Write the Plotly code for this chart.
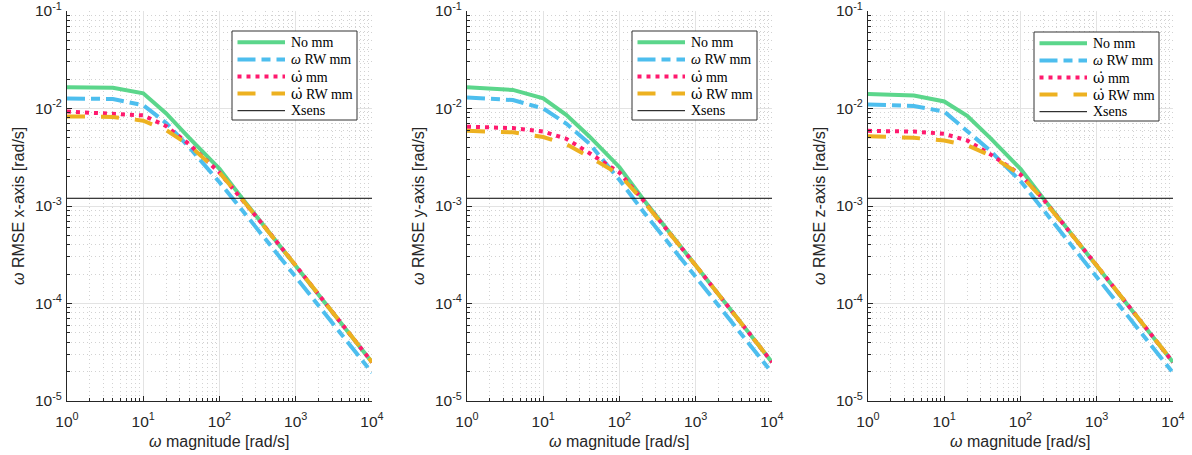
import plotly.graph_objects as go

# ---------------- data ----------------
omega = [1, 4, 10, 20, 40, 100, 200, 400, 1000, 10000]
xsens_rmse = 1.2e-3

# x-axis panel
x_no_mm = [0.0165, 0.0163, 0.0143, 0.0089, 0.0050, 0.0024, 0.00119, 6.0e-4, 2.45e-4, 2.5e-5]
x_w_rw = [0.0127, 0.0125, 0.0108, 0.0071, 0.0040, 0.00175, 9.0e-4, 4.6e-4, 1.87e-4, 1.95e-5]
x_wdot = [0.0093, 0.0089, 0.0085, 0.0066, 0.0043, 0.0022, 0.00117, 6.0e-4, 2.45e-4, 2.5e-5]
x_wdot_rw = [0.0083, 0.0082, 0.0075, 0.0060, 0.0042, 0.0022, 0.00116, 6.0e-4, 2.45e-4, 2.5e-5]

# y-axis panel
y_no_mm = [0.0165, 0.0155, 0.0127, 0.0086, 0.0052, 0.0025, 0.00120, 6.0e-4, 2.45e-4, 2.5e-5]
y_w_rw = [0.0130, 0.0122, 0.0100, 0.0070, 0.0044, 0.00185, 9.0e-4, 4.6e-4, 1.87e-4, 1.95e-5]
y_wdot = [0.0065, 0.0063, 0.0058, 0.0049, 0.0035, 0.0022, 0.00117, 6.0e-4, 2.45e-4, 2.5e-5]
y_wdot_rw = [0.0059, 0.0057, 0.0051, 0.0043, 0.0032, 0.0021, 0.00115, 6.0e-4, 2.45e-4, 2.5e-5]

# z-axis panel
z_no_mm = [0.0141, 0.0136, 0.0118, 0.0084, 0.0050, 0.0024, 0.00119, 6.0e-4, 2.45e-4, 2.5e-5]
z_w_rw = [0.0110, 0.0106, 0.0093, 0.0058, 0.0037, 0.0018, 9.0e-4, 4.6e-4, 1.87e-4, 1.95e-5]
z_wdot = [0.0059, 0.0058, 0.0055, 0.0047, 0.0034, 0.0021, 0.00117, 6.0e-4, 2.45e-4, 2.5e-5]
z_wdot_rw = [0.0052, 0.0050, 0.0047, 0.0042, 0.0033, 0.0021, 0.00115, 6.0e-4, 2.45e-4, 2.5e-5]

series_names = ["No mm", "ω RW mm", "ω̇ mm", "ω̇ RW mm", "Xsens"]
legend_labels = [
    "No mm",
    "<i>ω</i> RW mm",
    "<span style='font-family:DejaVu Serif'>ω̇</span> mm",
    "<span style='font-family:DejaVu Serif'>ω̇</span> RW mm",
    "Xsens",
]
axis_labels = ["x-axis", "y-axis", "z-axis"]
panels = [
    [x_no_mm, x_w_rw, x_wdot, x_wdot_rw],
    [y_no_mm, y_w_rw, y_wdot, y_wdot_rw],
    [z_no_mm, z_w_rw, z_wdot, z_wdot_rw],
]

x_tick_vals = [1, 10, 100, 1000, 10000]
x_tick_text = ["10<sup>0</sup>", "10<sup>1</sup>", "10<sup>2</sup>", "10<sup>3</sup>", "10<sup>4</sup>"]
y_tick_vals = [1e-5, 1e-4, 1e-3, 1e-2, 1e-1]
y_tick_text = ["10<sup>-5</sup>", "10<sup>-4</sup>", "10<sup>-3</sup>", "10<sup>-2</sup>", "10<sup>-1</sup>"]

# ---------------- styles ----------------
W, H = 1192, 455
styles = [
    dict(color="#5BD68B", width=4, dash="solid"),
    dict(color="#4DBEEE", width=4, dash="18px,6px,9px,6px"),
    dict(color="#FF1A6E", width=4, dash="4px,5px"),
    dict(color="#EDB120", width=4, dash="18px,16px"),
    dict(color="black", width=1, dash="solid"),
]
x_px = [(67, 372), (467, 772), (868, 1173)]
y_px = (11, 401)
legend_right_px = [357, 757, 1159]
legend_top_px = [31, 31, 32]
legend_w, legend_h, legend_row = 125, 89, 17.1

TXT = "#262626"
SANS = "Liberation Sans, Arial, Helvetica, sans-serif"
SERIF = "Liberation Serif, Times New Roman, serif"


def px_x(v):
    return v / W


def px_y(v):
    return 1 - v / H


minor_x = [m * 10 ** d for d in range(0, 4) for m in range(2, 10)]
minor_y = [m * 10.0 ** d for d in range(-5, -1) for m in range(2, 10)]

fig = go.Figure()
layout = dict(
    width=W, height=H,
    margin=dict(l=0, r=0, t=0, b=0),
    paper_bgcolor="white", plot_bgcolor="white",
    showlegend=False,
    annotations=[],
    shapes=[],
)

for i, data in enumerate(panels):
    sfx = "" if i == 0 else str(i + 1)
    xa, ya = "x" + sfx, "y" + sfx
    for j, vals in enumerate(data):
        st = styles[j]
        fig.add_trace(go.Scatter(
            x=omega, y=vals, mode="lines", name=series_names[j],
            line=dict(color=st["color"], width=st["width"], dash=st["dash"]),
            xaxis=xa, yaxis=ya,
        ))
    fig.add_trace(go.Scatter(
        x=[omega[0], omega[-1]], y=[xsens_rmse, xsens_rmse], mode="lines",
        name=series_names[4], line=dict(color="black", width=1),
        xaxis=xa, yaxis=ya,
    ))

    x0, x1 = x_px[i]
    common_grid = dict(showgrid=True, gridcolor="#E3E3E3", gridwidth=1)
    layout["xaxis" + sfx] = dict(
        type="log", range=[0, 4], domain=[x0 / W, x1 / W], anchor=ya,
        tickmode="array", tickvals=x_tick_vals, ticktext=x_tick_text,
        ticks="inside", ticklen=5, tickcolor=TXT, tickwidth=1,
        showline=True, linecolor=TXT, linewidth=1, mirror=False,
        tickfont=dict(family=SANS, size=15.5, color=TXT),
        ticklabelstandoff=6, ticklabeloverflow="allow",
        zeroline=False, automargin=False,
        minor=dict(tickmode="array", tickvals=minor_x, ticks="inside", ticklen=3,
                   tickcolor=TXT, showgrid=True, gridcolor="#D2D2D2",
                   griddash="1px,3px", gridwidth=1),
        **common_grid,
    )
    layout["yaxis" + sfx] = dict(
        type="log", range=[-5, -1], domain=[1 - y_px[1] / H, 1 - y_px[0] / H], anchor=xa,
        tickmode="array", tickvals=y_tick_vals, ticktext=y_tick_text,
        ticks="inside", ticklen=5, tickcolor=TXT, tickwidth=1,
        showline=True, linecolor=TXT, linewidth=1, mirror=False,
        tickfont=dict(family=SANS, size=15.5, color=TXT),
        ticklabelstandoff=1, ticklabeloverflow="allow",
        zeroline=False, automargin=False,
        minor=dict(tickmode="array", tickvals=minor_y, ticks="inside", ticklen=3,
                   tickcolor=TXT, showgrid=True, gridcolor="#D2D2D2",
                   griddash="1px,3px", gridwidth=1),
        **common_grid,
    )

    # custom legend box
    lr = legend_right_px[i]
    lt = legend_top_px[i]
    ll = lr - legend_w
    layout["shapes"].append(dict(
        type="rect", xref="paper", yref="paper", layer="above",
        x0=px_x(ll), x1=px_x(lr), y0=px_y(lt), y1=px_y(lt + legend_h),
        fillcolor="white", line=dict(color="#333333", width=1),
    ))
    for k in range(5):
        ry = lt + 11.3 + k * legend_row
        st = styles[k]
        layout["shapes"].append(dict(
            type="line", xref="paper", yref="paper", layer="above",
            x0=px_x(ll + 5.5), x1=px_x(ll + 53), y0=px_y(ry), y1=px_y(ry),
            line=dict(color=st["color"], width=st["width"] if k < 4 else 1,
                      dash=st["dash"] if k in (1, 2, 3) else "solid"),
        ))
        layout["annotations"].append(dict(
            text=legend_labels[k], xref="paper", yref="paper",
            x=px_x(ll + 57), y=px_y(ry), xanchor="left", yanchor="middle",
            showarrow=False, font=dict(family=SERIF, size=14, color="black"),
        ))

    # axis titles
    layout["annotations"].append(dict(
        text="<i>ω</i> magnitude [rad/s]", xref="paper", yref="paper",
        x=(x0 + x1) / 2 / W, y=1 - 441 / H, xanchor="center", yanchor="middle",
        showarrow=False, font=dict(family=SANS, size=16, color=TXT),
    ))
    layout["annotations"].append(dict(
        text="<i>ω</i> RMSE " + axis_labels[i] + " [rad/s]", xref="paper", yref="paper",
        x=(x0 - 48) / W, y=1 - (y_px[0] + y_px[1]) / 2 / H, xanchor="center", yanchor="middle",
        textangle=-90, showarrow=False, font=dict(family=SANS, size=16, color=TXT),
    ))

fig.update_layout(**layout)
fig.write_html("out.html")
